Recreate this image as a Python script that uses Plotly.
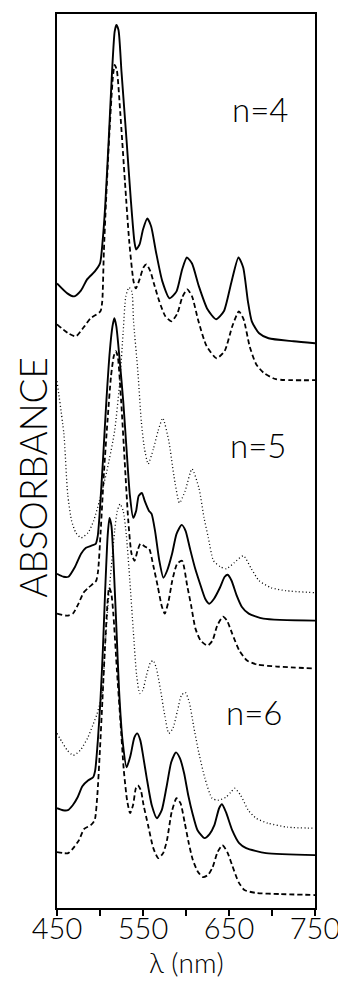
import plotly.graph_objects as go

# ---------------- data (wavelength in nm, absorbance in arbitrary offset units) ----------------
wl_n4_solid = [450, 462, 470, 478, 485, 494, 500, 503, 506, 510, 514, 517, 519, 521.5, 525, 531, 536, 540, 542, 546,
               550, 555, 559.5, 565, 572.5, 581, 589, 595.5, 601, 607, 615, 625, 635, 644, 653, 661, 666.5, 672, 676.5, 685,
               696, 725, 750]
abs_n4_solid = [6.26, 6.16, 6.13, 6.19, 6.30, 6.38, 6.46, 6.68, 7.03, 7.68, 8.38, 8.78, 8.85, 8.80, 8.38, 7.68, 7.08, 6.68, 6.60, 6.65,
                6.80, 6.91, 6.83, 6.58, 6.28, 6.11, 6.18, 6.40, 6.52, 6.46, 6.23, 6.00, 5.90, 5.98, 6.28, 6.52, 6.42, 6.08, 5.88, 5.76,
                5.71, 5.68, 5.66]

wl_n4_dash = [450, 463, 472, 481, 489, 500.5, 502.6, 504.5, 507, 511, 515, 517, 519.5, 523.5, 529, 534, 539, 541.7, 546, 550.5,
              554, 558.6, 563, 569, 576, 583, 590, 595.6, 601.5, 607, 614.5, 624, 635.6, 644.8, 653.8, 661.5, 667, 674, 681.6, 690.8,
              704.5, 750]
abs_n4_dash = [5.85, 5.76, 5.73, 5.82, 5.91, 5.98, 6.08, 6.58, 7.08, 7.78, 8.33, 8.45, 8.40, 7.98, 7.28, 6.68, 6.28, 6.21, 6.30, 6.42,
               6.45, 6.38, 6.25, 6.08, 5.93, 5.88, 5.96, 6.12, 6.20, 6.13, 5.88, 5.63, 5.51, 5.58, 5.83, 5.98, 5.90, 5.63, 5.45, 5.36,
               5.30, 5.29]

wl_n5_dot = [450, 458, 462.4, 467, 472, 478, 486, 492.6, 499.3, 508, 517, 523, 527, 530, 533.7, 537, 539, 544, 548, 551.6,
             556, 562, 567.5, 573, 580, 586, 592.4, 599, 607, 615, 621, 626, 632, 640, 647, 656, 666.7, 676, 685, 699,
             716.4, 750]
abs_n5_dot = [5.28, 4.75, 4.15, 3.88, 3.76, 3.71, 3.76, 3.88, 4.08, 4.38, 4.78, 5.28, 5.78, 6.13, 6.22, 6.18, 5.88, 5.38, 4.88, 4.61,
              4.45, 4.60, 4.78, 4.91, 4.68, 4.33, 4.06, 4.18, 4.40, 4.21, 3.91, 3.71, 3.48, 3.42, 3.40, 3.46, 3.53, 3.40, 3.28, 3.21,
              3.18, 3.16]

wl_n5_solid = [450, 457.6, 463.3, 471, 478, 483.7, 489.5, 495, 497.4, 499.4, 503.4, 507.4, 511.4, 514.5, 516.7, 519, 523, 527, 531, 534.8,
               538.6, 542, 545, 548.7, 552, 557, 560, 564, 569, 573.7, 578, 583.8, 589, 595, 599.5, 604.4, 610.4, 616.3, 622.3, 627,
               632.6, 639.4, 645, 648.5, 653, 659, 664.8, 673, 690, 750]
abs_n5_solid = [3.35, 3.32, 3.32, 3.42, 3.55, 3.61, 3.63, 3.65, 3.73, 3.93, 4.48, 5.08, 5.58, 5.83, 5.91, 5.83, 5.48, 5.08, 4.58, 4.13,
                3.91, 3.98, 4.13, 4.16, 4.08, 3.98, 3.95, 3.78, 3.48, 3.31, 3.38, 3.55, 3.75, 3.84, 3.78, 3.61, 3.41, 3.25, 3.10, 3.05,
                3.10, 3.21, 3.32, 3.34, 3.28, 3.13, 3.02, 2.95, 2.90, 2.88]

wl_n5_dash = [450, 461.5, 468.4, 475, 480.8, 486.5, 492, 495.6, 497.8, 500.8, 504.7, 508.7, 512.8, 516, 518.3, 520.6, 524.6, 528.7, 532.9, 536.7,
              540.2, 543.6, 547, 552.6, 557.2, 562, 567, 571.7, 575.3, 579.8, 584, 589.7, 595.4, 601.4, 606, 611, 617, 625, 630.8, 636.3,
              643, 647.7, 653.7, 662, 671, 682.6, 705.6, 750]
abs_n5_dash = [2.95, 2.93, 2.95, 3.05, 3.16, 3.21, 3.25, 3.28, 3.38, 3.78, 4.38, 4.88, 5.33, 5.53, 5.58, 5.53, 5.08, 4.48, 3.88, 3.55,
               3.48, 3.58, 3.65, 3.62, 3.60, 3.43, 3.23, 3.03, 2.95, 3.08, 3.28, 3.45, 3.48, 3.23, 3.03, 2.80, 2.68, 2.63, 2.68, 2.83,
               2.92, 2.88, 2.75, 2.58, 2.48, 2.44, 2.42, 2.40]

wl_n6_dot = [450, 456.1, 462, 468.9, 477, 486, 491.5, 496, 499.3, 502.6, 505.6, 509.7, 513.8, 517, 520.1, 523.4, 527, 530.7, 534.7, 538.7,
             542.6, 546.3, 549.7, 554, 558.6, 562, 565.6, 570.5, 575.3, 580, 584.7, 590.2, 594.6, 599.2, 603.9, 608.7, 614.8, 622, 630.3, 637.2,
             646.4, 652, 656.6, 663.5, 672.4, 681.5, 695.3, 718.2, 750]
abs_n6_dot = [1.75, 1.66, 1.58, 1.53, 1.58, 1.71, 1.83, 1.93, 2.03, 2.15, 2.58, 3.08, 3.48, 3.78, 3.98, 4.05, 3.98, 3.73, 3.28, 2.78,
              2.33, 2.15, 2.18, 2.33, 2.46, 2.48, 2.40, 2.18, 1.93, 1.75, 1.80, 1.98, 2.13, 2.16, 2.06, 1.83, 1.56, 1.30, 1.10, 1.08,
              1.11, 1.16, 1.20, 1.13, 0.98, 0.90, 0.85, 0.81, 0.80]

wl_n6_solid = [450, 456.9, 462.6, 468.3, 474, 479.5, 486.4, 492, 494.4, 497.5, 500.5, 503.3, 506, 508.9, 511, 513.3, 516.2, 519.2, 522.2, 526.2,
               531, 535.5, 540, 543.3, 546.9, 550.6, 554.2, 560.2, 566.2, 571.8, 577.3, 582.8, 588.3, 593, 597.8, 602.6, 607.5, 613.4, 621.6, 627.4,
               633, 638.5, 641.8, 646.5, 653.7, 661.8, 670, 693, 750]
abs_n6_solid = [1.00, 0.98, 0.98, 1.03, 1.11, 1.22, 1.28, 1.31, 1.38, 1.68, 2.08, 2.58, 3.18, 3.73, 3.91, 3.83, 3.38, 2.78, 2.18, 1.68,
                1.41, 1.53, 1.71, 1.75, 1.68, 1.50, 1.31, 1.03, 0.90, 0.98, 1.21, 1.46, 1.56, 1.50, 1.35, 1.13, 0.95, 0.78, 0.70, 0.74,
                0.83, 1.00, 1.04, 0.96, 0.78, 0.65, 0.60, 0.55, 0.53]

wl_n6_dash = [450, 457.4, 463.1, 468.9, 475.6, 481.3, 489.2, 493.8, 496.9, 499.9, 502.8, 505.6, 508.5, 510.6, 513, 515.5, 519.7, 523.7, 527.7, 531.5,
              535, 538.4, 541.7, 544, 547.5, 550.7, 555.9, 562, 567.8, 573.4, 577.9, 583.3, 589, 593.6, 598.4, 603.2, 608, 614, 619.7, 625.5,
              631, 636.7, 642.3, 648, 654, 661.1, 668, 682, 708.5, 750]
abs_n6_dash = [0.56, 0.55, 0.55, 0.60, 0.68, 0.79, 0.83, 0.88, 1.13, 1.58, 2.08, 2.58, 3.03, 3.21, 3.16, 2.95, 2.38, 1.88, 1.38, 1.08,
               0.95, 1.03, 1.20, 1.23, 1.18, 1.03, 0.83, 0.60, 0.50, 0.55, 0.68, 0.96, 1.10, 1.05, 0.86, 0.65, 0.48, 0.36, 0.31, 0.33,
               0.41, 0.56, 0.63, 0.56, 0.42, 0.26, 0.18, 0.15, 0.14, 0.13]

labels = ["n=4", "n=5", "n=6"]
label_x = [686, 684, 679]
label_y = [8.01, 4.64, 1.96]

x_tickvals = [450, 500, 550, 600, 650, 700, 750]
x_ticktext = ["450", "", "550", "", "650", "", "750"]

# ---------------- figure ----------------
FONT = "Lato, 'Open Sans', sans-serif"
solid = dict(color="black", width=1.9)
dashed = dict(color="black", width=1.8, dash="5px,3px")
dotted = dict(color="black", width=1.3, dash="1px,2.5px")

series = [
    (wl_n4_solid, abs_n4_solid, solid),
    (wl_n4_dash, abs_n4_dash, dashed),
    (wl_n5_dot, abs_n5_dot, dotted),
    (wl_n5_solid, abs_n5_solid, solid),
    (wl_n5_dash, abs_n5_dash, dashed),
    (wl_n6_dot, abs_n6_dot, dotted),
    (wl_n6_solid, abs_n6_solid, solid),
    (wl_n6_dash, abs_n6_dash, dashed),
]

fig = go.Figure()
for xs, ys, ln in series:
    fig.add_trace(go.Scatter(x=xs, y=ys, mode="lines", line=dict(shape="spline", smoothing=0.6, **ln),
                             showlegend=False, hoverinfo="skip"))

for t, x, y in zip(labels, label_x, label_y):
    fig.add_annotation(x=x, y=y, xref="x", yref="y", text=t, showarrow=False,
                       font=dict(family=FONT, size=33, color="black", weight=300))

fig.add_annotation(x=0.5, y=-0.0605, xref="paper", yref="paper", text="λ (nm)", showarrow=False,
                   xanchor="center", yanchor="middle",
                   font=dict(family=FONT, size=28, color="black", weight=300))
fig.add_annotation(x=-0.098, y=0.482, xref="paper", yref="paper", text="ABSORBANCE", showarrow=False,
                   textangle=-90, xanchor="center", yanchor="middle",
                   font=dict(family=FONT, size=37, color="black", weight=300))

# the page body adds an 8 px margin, so the figure is sized to fit the 346x989 window
fig.update_layout(
    width=338, height=973,
    margin=dict(l=49, r=31, t=4, b=73),
    paper_bgcolor="white", plot_bgcolor="white",
    showlegend=False,
)
fig.update_xaxes(range=[450, 750], tickvals=x_tickvals, ticktext=x_ticktext,
                 ticks="outside", ticklen=6, tickwidth=1.5, tickcolor="black",
                 ticklabelstandoff=-12, ticklabeloverflow="allow",
                 showline=True, linewidth=2, linecolor="black", mirror=True,
                 showgrid=False, zeroline=False,
                 tickfont=dict(family=FONT, size=29, color="black", weight=300))
fig.update_yaxes(range=[0, 8.96], showticklabels=False, ticks="",
                 showline=True, linewidth=2, linecolor="black", mirror=True,
                 showgrid=False, zeroline=False)

fig.write_html("out.html")
